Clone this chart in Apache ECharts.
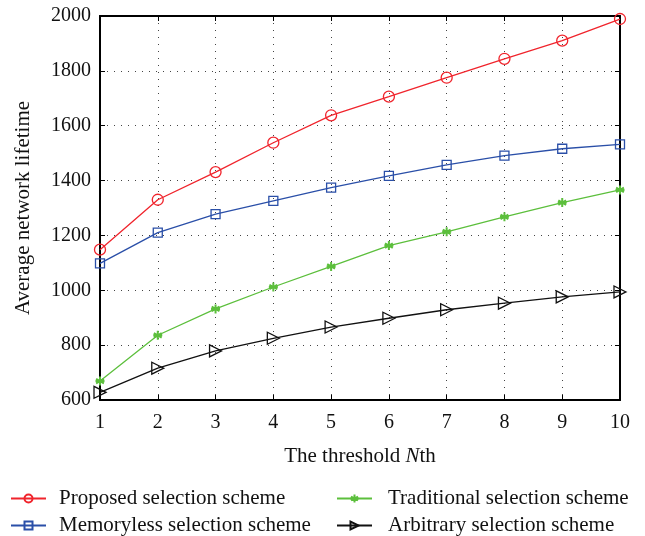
<!DOCTYPE html>
<html>
<head>
<meta charset="utf-8">
<script src="https://cdn.jsdelivr.net/npm/echarts@6/dist/echarts.min.js"></script>
<style>html,body{margin:0;padding:0;background:#fff}#c{width:645px;height:536px}</style>
</head>
<body>
<div id="c"></div>
<script>
var thresholds = [1, 2, 3, 4, 5, 6, 7, 8, 9, 10];
var proposed    = [1148, 1330, 1431, 1538, 1638, 1706, 1775, 1844, 1910, 1989];
var memoryless  = [1098, 1210, 1278, 1326, 1374, 1417, 1457, 1491, 1516, 1532];
var traditional = [669, 836, 932, 1012, 1087, 1163, 1213, 1268, 1320, 1366];
var arbitrary   = [628, 716, 779, 825, 866, 898, 929, 953, 976, 994];
var seriesNames = ['Proposed selection scheme', 'Memoryless selection scheme', 'Traditional selection scheme', 'Arbitrary selection scheme'];

function pairs(vals){ return thresholds.map(function(t,i){ return [t, vals[i]]; }); }

var FONT = 'Liberation Serif';
var chart = echarts.init(document.getElementById('c'));
var dotted = { show: true, lineStyle: { color: '#444', type: [1, 6], width: 1 } };
var star = 'path://M0,-10 L0,10 M-8.66,-5 L8.66,5 M-8.66,5 L8.66,-5 M-10,0 L10,0';

function legendAt(name, left, top, pad) {
  return {
    left: left, top: top, itemWidth: 35, itemHeight: 10, padding: 0, itemGap: 0,
    data: [name],
    textStyle: { fontFamily: FONT, fontSize: 21, color: '#111', padding: [0, 0, 0, pad] }
  };
}

chart.setOption({
  animation: false,
  backgroundColor: '#fff',
  grid: { left: 100, right: 25, top: 16, bottom: 136, show: true, borderColor: '#000', borderWidth: 1.5, backgroundColor: 'transparent' },
  xAxis: [{
    type: 'value', min: 1, max: 10, interval: 1,
    name: '{a|The threshold }{i|N}{a|th}', nameLocation: 'middle', nameGap: 46,
    nameTextStyle: { rich: { a: { fontFamily: FONT, fontSize: 21, color: '#111' }, i: { fontFamily: FONT, fontSize: 21, fontStyle: 'italic', color: '#111' } } },
    axisLine: { show: true, lineStyle: { color: '#000', width: 2 } },
    axisTick: { show: true, inside: true, length: 5, lineStyle: { color: '#000' } },
    axisLabel: { fontFamily: FONT, fontSize: 20, color: '#111', margin: 13 },
    splitLine: dotted
  }, {
    type: 'value', min: 1, max: 10, interval: 1, position: 'top',
    axisLine: { show: true, lineStyle: { color: '#000', width: 2 } },
    axisTick: { show: true, inside: true, length: 5, lineStyle: { color: '#000' } },
    axisLabel: { show: false }, splitLine: { show: false }
  }],
  yAxis: [{
    type: 'value', min: 600, max: 2000, interval: 200,
    name: 'Average network lifetime', nameLocation: 'middle', nameGap: 66,
    nameTextStyle: { fontFamily: FONT, fontSize: 21, color: '#111' },
    axisLine: { show: true, lineStyle: { color: '#000', width: 2 } },
    axisTick: { show: true, inside: true, length: 5, lineStyle: { color: '#000' } },
    axisLabel: { fontFamily: FONT, fontSize: 20, color: '#111', margin: 9, formatter: function(v){ return String(v); } },
    splitLine: dotted
  }, {
    type: 'value', min: 600, max: 2000, interval: 200, position: 'right',
    axisLine: { show: true, lineStyle: { color: '#000', width: 2 } },
    axisTick: { show: true, inside: true, length: 5, lineStyle: { color: '#000' } },
    axisLabel: { show: false }, splitLine: { show: false }
  }],
  legend: [
    legendAt(seriesNames[0], 10, 488, 8),
    legendAt(seriesNames[1], 10, 515, 8),
    legendAt(seriesNames[2], 336, 488, 11),
    legendAt(seriesNames[3], 336, 515, 11)
  ],
  series: [{
    name: seriesNames[0], type: 'line', data: pairs(proposed),
    symbol: 'circle', symbolSize: 11,
    lineStyle: { color: '#f0242c', width: 1.3 },
    itemStyle: { color: 'rgba(255,255,255,0)', borderColor: '#f0242c', borderWidth: 1.3 }
  }, {
    name: seriesNames[1], type: 'line', data: pairs(memoryless),
    symbol: 'rect', symbolSize: 9,
    lineStyle: { color: '#2a4fa8', width: 1.3 },
    itemStyle: { color: 'rgba(255,255,255,0)', borderColor: '#2a4fa8', borderWidth: 1.3 }
  }, {
    name: seriesNames[2], type: 'line', data: pairs(traditional),
    symbol: star, symbolSize: 9,
    lineStyle: { color: '#5cbf3c', width: 1.3 },
    itemStyle: { color: '#5cbf3c', borderColor: '#5cbf3c', borderWidth: 2 }
  }, {
    name: seriesNames[3], type: 'line', data: pairs(arbitrary),
    symbol: 'triangle', symbolSize: 12, symbolRotate: -90,
    lineStyle: { color: '#111', width: 1.3 },
    itemStyle: { color: 'rgba(255,255,255,0)', borderColor: '#111', borderWidth: 1.3 }
  }]
});
</script>
</body>
</html>
